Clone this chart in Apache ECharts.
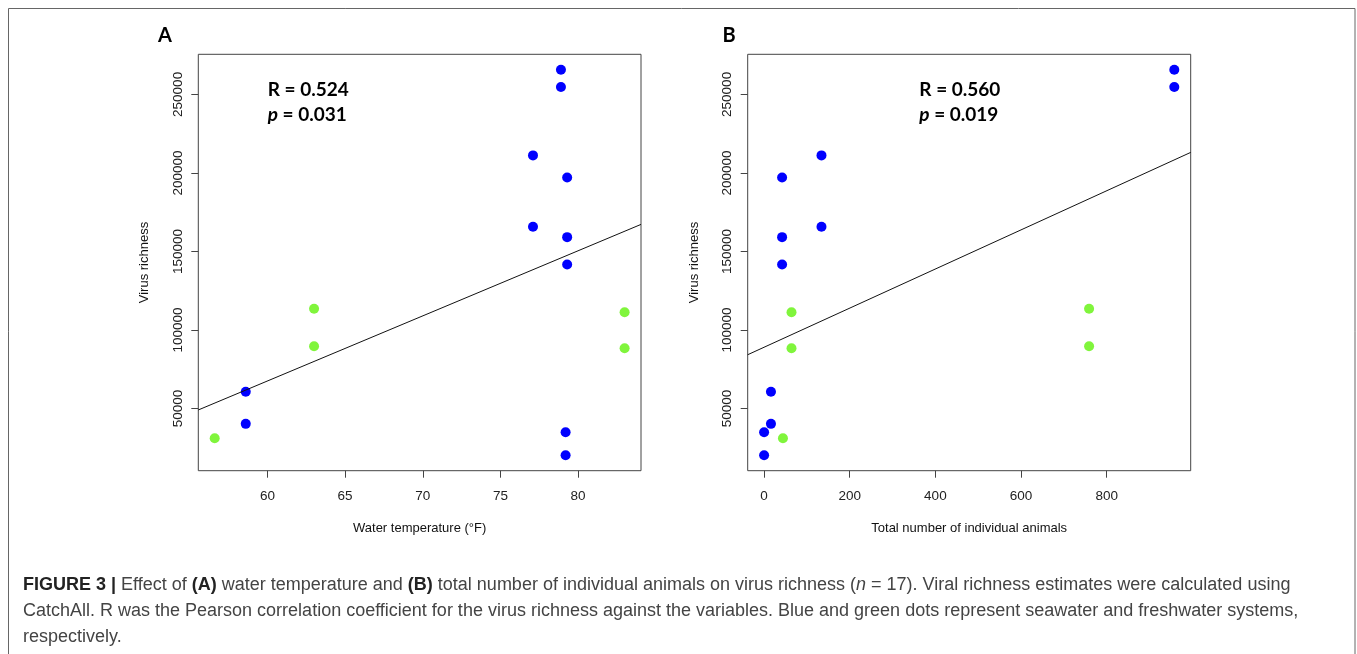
<!DOCTYPE html>
<html>
<head>
<meta charset="utf-8">
<script src="https://cdn.jsdelivr.net/npm/echarts@6/dist/echarts.min.js"></script>
<style>
html,body{margin:0;padding:0;background:#fff;}
#chart{width:1357px;height:654px;}
</style>
</head>
<body>
<div id="chart"></div>
<script>
// ---- data ----
// Seawater (blue) samples
const seawaterTemp = [78.9, 78.9, 77.1, 79.3, 77.1, 79.3, 79.3, 58.6, 58.6, 79.2, 79.2];
const seawaterAnimals = [958, 958, 134, 42, 134, 42, 42, 16, 16, 0, 0];
const seawaterRichness = [265700, 254650, 211150, 197130, 165730, 159110, 141720, 60640, 40250, 34900, 20250];
// Freshwater (green) samples
const freshTemp = [63.0, 63.0, 83.0, 83.0, 56.6];
const freshAnimals = [759, 759, 64, 64, 44];
const freshRichness = [113500, 89680, 111340, 88410, 31080];
// Fitted regression lines (intercept, slope)
const fitA = { intercept: -181015, slope: 4143 };
const fitB = { intercept: 89030, slope: 124.5 };
// Tick labels
const tempTicks = [60, 65, 70, 75, 80];
const animalTicks = [0, 200, 400, 600, 800];
const richnessTicks = [50000, 100000, 150000, 200000, 250000];
// Annotation texts
const statsA = ['R = 0.524', '0.031'];
const statsB = ['R = 0.560', '0.019'];

// ---- helpers ----
function padRange(arr) { // R default axis extension of 4%
  const mn = Math.min(...arr), mx = Math.max(...arr), d = (mx - mn) * 0.04;
  return [mn - d, mx + d];
}
const allRich = seawaterRichness.concat(freshRichness);
const yR = padRange(allRich);
const xRA = padRange(seawaterTemp.concat(freshTemp));
const xRB = padRange(seawaterAnimals.concat(freshAnimals));
const pairs = (xs, ys) => xs.map((x, i) => [x, ys[i]]);
const fitLine = (f, r) => [[r[0], f.intercept + f.slope * r[0]], [r[1], f.intercept + f.slope * r[1]]];

const FONT = 'Liberation Sans, Arial, Helvetica, sans-serif';
const CAPFONT = 'Liberation Sans, Arial, sans-serif';
const AX = '#444';

function xAxisCfg(idx, range, ticks, name) {
  return {
    type: 'value', gridIndex: idx, min: range[0], max: range[1],
    name: name, nameLocation: 'middle', nameGap: 51,
    nameTextStyle: { fontFamily: FONT, fontSize: 13, color: '#111' },
    axisLine: { show: false, onZero: false },
    axisTick: { show: true, inside: false, length: 7, customValues: ticks, lineStyle: { color: AX, width: 1 } },
    axisLabel: { customValues: ticks, margin: 19, fontFamily: FONT, fontSize: 13.5, color: '#222', formatter: v => String(v) },
    splitLine: { show: false }
  };
}
function yAxisCfg(idx) {
  return {
    type: 'value', gridIndex: idx, min: yR[0], max: yR[1],
    name: 'Virus richness', nameLocation: 'middle', nameGap: 47,
    nameTextStyle: { fontFamily: FONT, fontSize: 13, color: '#111' },
    axisLine: { show: false, onZero: false },
    axisTick: { show: true, inside: false, length: 7, customValues: richnessTicks, lineStyle: { color: AX, width: 1 } },
    axisLabel: { customValues: richnessTicks, rotate: 90, margin: 13.5, fontFamily: FONT, fontSize: 13.5, color: '#222', formatter: v => String(v) },
    splitLine: { show: false }
  };
}
const BLUE = '#0000ff', GREEN = '#80f53c';
function scatter(idx, data, color) {
  return { type: 'scatter', xAxisIndex: idx, yAxisIndex: idx, data: data, symbol: 'circle', symbolSize: 10,
           itemStyle: { color: color, opacity: 1 }, silent: true, z: 3 };
}
function line(idx, data) {
  return { type: 'line', xAxisIndex: idx, yAxisIndex: idx, data: data, symbol: 'none',
           lineStyle: { color: '#111', width: 1 }, silent: true, z: 4, animation: false };
}
function statText(x, s) {
  return [
    { type: 'text', x: x, y: 89.5, style: { text: s[0], fontFamily: 'Lato, sans-serif', fontWeight: 'bold', fontSize: 19, fill: '#000', verticalAlign: 'middle' } },
    { type: 'text', x: x, y: 114.5, style: { text: '{i|p}{b| = ' + s[1] + '}', verticalAlign: 'middle',
      fontFamily: 'Lato, sans-serif', fontWeight: 'bold', fontSize: 19, fill: '#000',
      rich: { i: { fontFamily: 'Lato, sans-serif', fontWeight: 'bold', fontStyle: 'italic', fontSize: 19, fill: '#000' },
              b: { fontFamily: 'Lato, sans-serif', fontWeight: 'bold', fontSize: 19, fill: '#000' } } } }
  ];
}
const CAPSIZE = 18;
const capRich = {
  r: { fontFamily: CAPFONT, fontSize: CAPSIZE, fill: '#444' },
  b: { fontFamily: CAPFONT, fontSize: CAPSIZE, fontWeight: 'bold', fill: '#222' },
  i: { fontFamily: CAPFONT, fontSize: CAPSIZE, fontStyle: 'italic', fill: '#444' }
};
function capLine(y, text) {
  return { type: 'text', x: 23, y: y, style: { text: text, rich: capRich, fontFamily: CAPFONT, fontSize: CAPSIZE, fill: '#444', verticalAlign: 'middle' } };
}

const chart = echarts.init(document.getElementById('chart'), null, { renderer: 'canvas' });
chart.setOption({
  backgroundColor: '#fff',
  animation: false,
  grid: [
    { left: 198.3, top: 54.3, width: 442.7, height: 416.4, show: true, borderColor: AX, borderWidth: 1, backgroundColor: 'transparent', containLabel: false },
    { left: 747.7, top: 54.3, width: 443, height: 416.4, show: true, borderColor: AX, borderWidth: 1, backgroundColor: 'transparent', containLabel: false }
  ],
  xAxis: [
    xAxisCfg(0, xRA, tempTicks, 'Water temperature (°F)'),
    xAxisCfg(1, xRB, animalTicks, 'Total number of individual animals')
  ],
  yAxis: [yAxisCfg(0), yAxisCfg(1)],
  series: [
    scatter(0, pairs(seawaterTemp, seawaterRichness), BLUE),
    scatter(0, pairs(freshTemp, freshRichness), GREEN),
    line(0, fitLine(fitA, xRA)),
    scatter(1, pairs(seawaterAnimals, seawaterRichness), BLUE),
    scatter(1, pairs(freshAnimals, freshRichness), GREEN),
    line(1, fitLine(fitB, xRB))
  ],
  graphic: [
    { type: 'rect', shape: { x: 8.5, y: 8.5, width: 1346.5, height: 700 }, style: { fill: 'none', stroke: '#666', lineWidth: 1 }, silent: true },
    { type: 'text', x: 158, y: 36, style: { text: 'A', fontFamily: 'Lato, sans-serif', fontWeight: 'bold', fontSize: 20, fill: '#000', verticalAlign: 'middle' } },
    { type: 'text', x: 722.5, y: 36, style: { text: 'B', fontFamily: 'Lato, sans-serif', fontWeight: 'bold', fontSize: 20, fill: '#000', verticalAlign: 'middle' } },
    ...statText(267.7, statsA),
    ...statText(919.3, statsB),
    capLine(585, '{b|FIGURE 3 |}{r| Effect of }{b|(A)}{r| water temperature and }{b|(B)}{r| total number of individual animals on virus richness (}{i|n}{r| = 17). Viral richness estimates were calculated using}'),
    capLine(611, '{r|CatchAll. R was the Pearson correlation coefficient for the virus richness against the variables. Blue and green dots represent seawater and freshwater systems,}'),
    capLine(637, '{r|respectively.}')
  ]
});
</script>
</body>
</html>
